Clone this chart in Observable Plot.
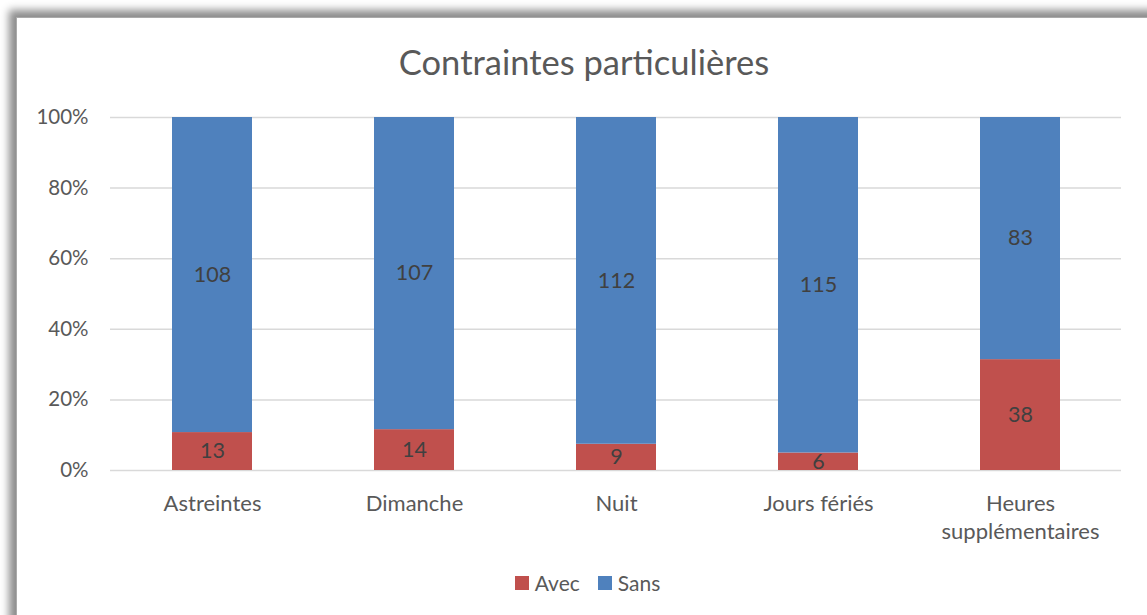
<!DOCTYPE html>
<html><head><meta charset="utf-8">
<script src="https://cdn.jsdelivr.net/npm/d3@7"></script>
<script src="https://cdn.jsdelivr.net/npm/@observablehq/plot@0.6"></script>
<style>
body{margin:0;background:#fff;width:1147px;height:615px;overflow:hidden;position:relative;font-family:Lato,"Open Sans",sans-serif;color:#595959}
#frame{position:absolute;left:16px;top:17px;width:1160px;height:640px;background:#fff;box-shadow:-5px -5px 8px 2px rgba(0,0,0,0.45);border-left:1px solid #aaa;border-top:1px solid #aaa}
#title{position:absolute;left:0;width:1168px;top:40px;text-align:center;font-size:34.5px;line-height:44px;color:#595959}
#chart{position:absolute;left:0;top:100px}
#legend{position:absolute;top:569px;left:0;width:1175px;display:flex;justify-content:center;gap:18px;font-size:21px;line-height:28px;color:#595959}
#legend span{display:flex;align-items:center;gap:6px}
#legend i{display:inline-block;width:14px;height:14px}
</style></head><body>
<div id="frame"></div>
<div id="title">Contraintes particulières</div>
<div id="chart"></div>
<div id="legend"></div>
<script>
const categories = ["Astreintes","Dimanche","Nuit","Jours fériés","Heures supplémentaires"];
const avec = [13,14,9,6,38];
const sans = [108,107,112,115,83];
const seriesNames = ["Avec","Sans"];
const colors = ["#C0504D","#4F81BD"];
const yTicks = [0,0.2,0.4,0.6,0.8,1];

const data = [];
categories.forEach((c,i)=>{
  data.push({cat:c, series:"Avec", value:avec[i]});
  data.push({cat:c, series:"Sans", value:sans[i]});
});

const chart = Plot.plot({
  width:1147, height:460,
  marginTop:17, marginBottom:90, marginLeft:110, marginRight:26,
  style:{fontFamily:"Lato, 'Open Sans', sans-serif", color:"#595959", background:"transparent", overflow:"visible"},
  x:{domain:categories, paddingInner:0.604, paddingOuter:0.302, label:null},
  y:{domain:[0,1], label:null},
  color:{domain:seriesNames, range:colors},
  marks:[
    Plot.gridY(yTicks,{stroke:"#d9d9d9", strokeOpacity:1, strokeWidth:1.5}),
    Plot.barY(data, Plot.stackY({offset:"normalize", x:"cat", y:"value", fill:"series", order:seriesNames})),
    Plot.text(data, Plot.stackY({offset:"normalize", x:"cat", y:"value", z:"series", order:seriesNames, text:"value", fill:"#404040", fontSize:21.5})),
    Plot.axisY({ticks:yTicks, tickFormat:d=>Math.round(d*100)+"%", tickSize:0, tickPadding:22, fontSize:20.5, fill:"#595959"}),
    Plot.axisX({tickSize:0, tickPadding:20, fontSize:22, fill:"#595959", lineHeight:1.28,
      tickFormat:d=> d==="Heures supplémentaires" ? "Heures\nsupplémentaires" : d})
  ]
});
document.getElementById("chart").appendChild(chart);

const lg = document.getElementById("legend");
seriesNames.forEach((s,i)=>{
  const sp=document.createElement("span");
  sp.innerHTML=`<i style="background:${colors[i]}"></i>${s}`;
  lg.appendChild(sp);
});
</script>
</body></html>
